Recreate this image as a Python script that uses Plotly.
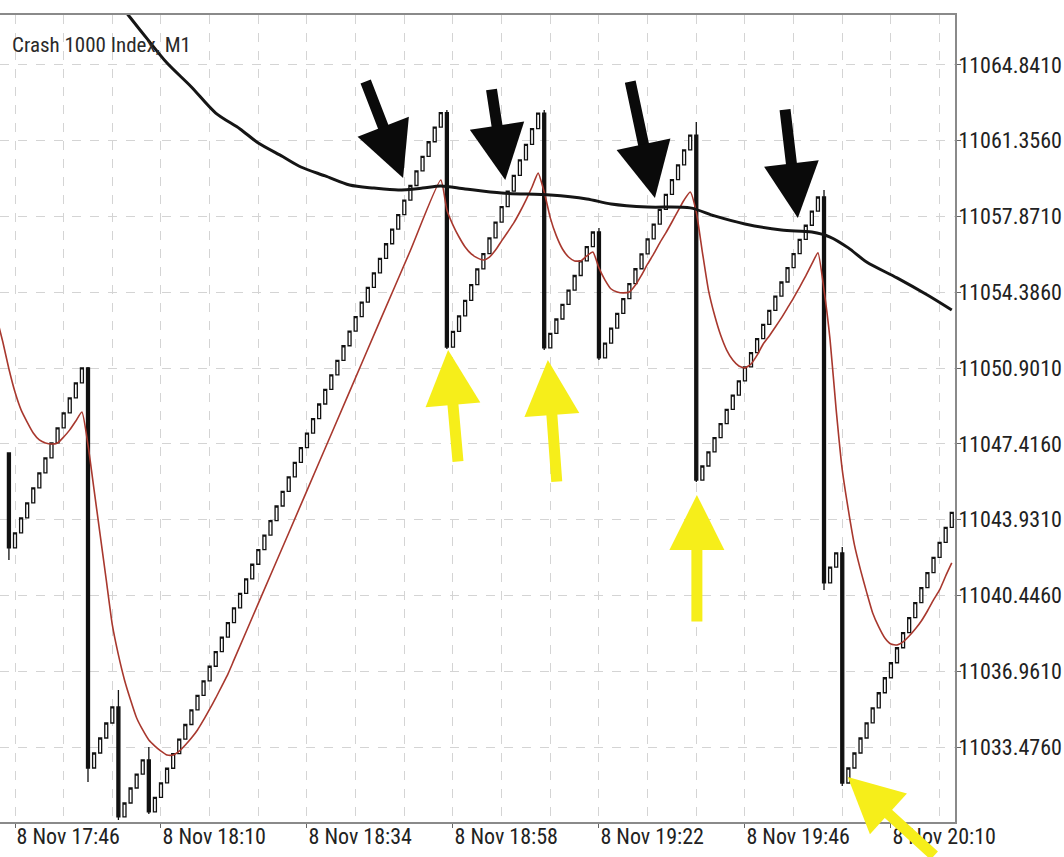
import pandas as pd
import plotly.graph_objects as go

# ---------------- data ----------------
first_bar = "2023-11-08 17:45"          # first visible M1 bar

opens = [
    11047.00,
    11042.63, 11043.32, 11044.01, 11044.70, 11045.39, 11046.08, 11046.77, 11047.46, 11048.15, 11048.84, 11049.53, 11050.22,
    11050.91,
    11032.51, 11033.20, 11033.89, 11034.58,
    11035.32,
    11030.26, 11030.90, 11031.59, 11032.23,
    11032.88,
    11030.49, 11031.16, 11031.83, 11032.50, 11033.17, 11033.84, 11034.51, 11035.18, 11035.85, 11036.52,
    11037.19, 11037.86, 11038.53, 11039.20, 11039.87, 11040.54, 11041.21, 11041.88, 11042.55, 11043.22,
    11043.89, 11044.56, 11045.23, 11045.90, 11046.57, 11047.24, 11047.91, 11048.58, 11049.25, 11049.92,
    11050.59, 11051.26, 11051.93, 11052.60, 11053.27, 11053.94, 11054.61, 11055.28, 11055.95, 11056.62,
    11057.29, 11057.96, 11058.63, 11059.30, 11059.97, 11060.64, 11061.31, 11061.98,
    11062.65,
    11051.87, 11052.59, 11053.30, 11054.02, 11054.74, 11055.46, 11056.17, 11056.89, 11057.61, 11058.33,
    11059.04, 11059.76, 11060.48, 11061.19, 11061.91,
    11062.63,
    11051.83, 11052.50, 11053.16, 11053.83, 11054.49, 11055.16, 11055.83, 11056.49,
    11057.16,
    11051.37, 11052.05, 11052.74, 11053.42, 11054.10, 11054.79, 11055.47, 11056.15, 11056.84, 11057.52,
    11058.20, 11058.89, 11059.57, 11060.25, 11060.94,
    11061.62,
    11045.75, 11046.40, 11047.05, 11047.70, 11048.35, 11049.00, 11049.66, 11050.31, 11050.96, 11051.61,
    11052.26, 11052.91, 11053.56, 11054.21, 11054.86, 11055.52, 11056.17, 11056.82, 11057.47, 11058.12,
    11058.77,
    11041.02, 11041.75,
    11042.40,
    11031.82, 11032.51, 11033.20, 11033.89, 11034.59, 11035.28, 11035.97, 11036.66, 11037.35, 11038.04,
    11038.74, 11039.43, 11040.12, 11040.81, 11041.50, 11042.20, 11042.89, 11043.58,
]

closes = [
    11042.63,
    11043.32, 11044.01, 11044.70, 11045.39, 11046.08, 11046.77, 11047.46, 11048.15, 11048.84, 11049.53, 11050.22, 11050.91,
    11032.51,
    11033.20, 11033.89, 11034.58, 11035.32,
    11030.26,
    11030.90, 11031.59, 11032.23, 11032.88,
    11030.49,
    11031.16, 11031.83, 11032.50, 11033.17, 11033.84, 11034.51, 11035.18, 11035.85, 11036.52, 11037.19,
    11037.86, 11038.53, 11039.20, 11039.87, 11040.54, 11041.21, 11041.88, 11042.55, 11043.22, 11043.89,
    11044.56, 11045.23, 11045.90, 11046.57, 11047.24, 11047.91, 11048.58, 11049.25, 11049.92, 11050.59,
    11051.26, 11051.93, 11052.60, 11053.27, 11053.94, 11054.61, 11055.28, 11055.95, 11056.62, 11057.29,
    11057.96, 11058.63, 11059.30, 11059.97, 11060.64, 11061.31, 11061.98, 11062.65,
    11051.87,
    11052.59, 11053.30, 11054.02, 11054.74, 11055.46, 11056.17, 11056.89, 11057.61, 11058.33, 11059.04,
    11059.76, 11060.48, 11061.19, 11061.91, 11062.63,
    11051.83,
    11052.50, 11053.16, 11053.83, 11054.49, 11055.16, 11055.83, 11056.49, 11057.16,
    11051.37,
    11052.05, 11052.74, 11053.42, 11054.10, 11054.79, 11055.47, 11056.15, 11056.84, 11057.52, 11058.20,
    11058.89, 11059.57, 11060.25, 11060.94, 11061.62,
    11045.75,
    11046.40, 11047.05, 11047.70, 11048.35, 11049.00, 11049.66, 11050.31, 11050.96, 11051.61, 11052.26,
    11052.91, 11053.56, 11054.21, 11054.86, 11055.52, 11056.17, 11056.82, 11057.47, 11058.12, 11058.77,
    11041.02,
    11041.75, 11042.40,
    11031.82,
    11032.51, 11033.20, 11033.89, 11034.59, 11035.28, 11035.97, 11036.66, 11037.35, 11038.04, 11038.74,
    11039.43, 11040.12, 11040.81, 11041.50, 11042.20, 11042.89, 11043.58, 11044.27,
]

# wicks of the crash (bearish) bars: bar index -> price
wick_high = {0: 11047.00, 13: 11050.95, 18: 11036.10, 23: 11033.48, 72: 11062.77,
             88: 11062.77, 97: 11057.35, 113: 11062.22, 134: 11059.09, 137: 11042.67}
wick_low = {0: 11042.08, 13: 11031.87, 18: 11030.12, 23: 11030.39, 72: 11051.78,
            88: 11051.73, 97: 11051.27, 113: 11045.66, 134: 11040.70, 137: 11031.68}

# fast moving average (red) : minutes after 17:46 -> price
fast_min = [-3, -2, -1, 0, 1, 2, 3, 4, 5, 6, 7, 8, 9, 10, 11, 12, 13, 14, 15, 16, 17, 18, 19, 20,
            21, 22, 23, 24, 25, 26, 27, 28, 29, 30, 31, 32, 33, 34, 35, 36, 40, 45, 50, 55, 60, 65, 70,
            71, 72, 73, 74, 75, 76, 77, 78, 79, 80, 81, 82, 83, 84, 85, 86, 87, 88, 89, 90, 91, 92, 93,
            94, 95, 96, 97, 98, 99, 100, 101, 102, 103, 104, 105, 106, 107, 108, 109, 110, 111, 112,
            113, 114, 115, 116, 117, 118, 119, 120, 121, 122, 123, 124, 125, 126, 127, 128, 129, 130,
            131, 132, 133, 134, 135, 136, 137, 138, 139, 140, 141, 142, 143, 144, 145, 146, 147, 148,
            149, 150, 151, 152, 153, 154]
fast_val = [11053.20, 11052.10, 11050.86, 11049.80, 11048.98, 11048.42, 11047.92, 11047.60, 11047.46,
            11047.41, 11047.46, 11047.73, 11048.06, 11048.47, 11048.88, 11047.37, 11045.30, 11043.23,
            11041.16, 11039.09, 11037.71, 11036.56, 11035.64, 11034.81, 11034.26, 11033.80, 11033.52,
            11033.29, 11033.11, 11033.11, 11033.29, 11033.57, 11033.89, 11034.26, 11034.72, 11035.22,
            11035.73, 11036.28, 11036.83, 11037.48, 11040.08, 11043.32, 11046.57, 11049.82, 11053.07,
            11056.31, 11059.55,
            11058.17, 11057.48, 11056.93, 11056.47, 11056.15, 11055.97, 11055.87, 11056.01, 11056.33,
            11056.75, 11057.16, 11057.58, 11058.08, 11058.63, 11059.23, 11059.87, 11059.00, 11057.81,
            11056.98, 11056.38, 11056.01, 11055.83, 11055.83, 11056.06, 11056.24, 11055.51, 11054.95,
            11054.54, 11054.40, 11054.36, 11054.40, 11054.72, 11055.18, 11055.69, 11056.15, 11056.66,
            11057.12, 11057.62, 11058.13, 11058.63, 11059.00, 11058.08,
            11056.24, 11054.49, 11053.34, 11052.42, 11051.73, 11051.27, 11051.00, 11050.91, 11051.09,
            11051.50, 11052.01, 11052.38, 11052.79, 11053.21, 11053.67, 11054.13, 11054.63, 11055.14,
            11055.69, 11056.20, 11054.49, 11052.19, 11048.98, 11046.22, 11044.38, 11042.77, 11041.62,
            11040.60, 11039.64, 11039.00, 11038.49, 11038.21, 11038.17, 11038.31, 11038.58, 11038.90,
            11039.27, 11039.73, 11040.24, 11040.70, 11041.34, 11041.94]

# slow moving average (thick black)
slow_min = [16, 19, 22, 25, 29, 33, 37, 40, 44, 47, 51, 55, 59, 63, 67, 70, 74, 80, 88, 94, 98,
            104, 111, 115, 120, 126, 131, 134, 137, 140, 145, 150, 154]
slow_val = [11068.06, 11067.00, 11065.95, 11064.93, 11063.83, 11062.63, 11061.90, 11061.25,
            11060.63, 11060.15, 11059.74, 11059.32, 11059.18, 11059.09, 11059.18, 11059.28,
            11059.14, 11058.95, 11058.86, 11058.68, 11058.45, 11058.31, 11058.27, 11057.90,
            11057.53, 11057.25, 11057.16, 11056.93, 11056.43, 11055.78, 11055.05, 11054.26,
            11053.57]

price_ticks = [11033.4760, 11036.9610, 11040.4460, 11043.9310, 11047.4160,
               11050.9010, 11054.3860, 11057.8710, 11061.3560, 11064.8410]

# hand-drawn arrows: head (minutes after 17:46, price), tail offset in px
black_arrow_min = [63.8, 80.6, 105.2, 128.7]
black_arrow_price = [11059.64, 11059.55, 11058.72, 11057.80]
black_arrow_dx = [-38, -14, -25, -13]
black_arrow_dy = [-98, -92, -118, -110]

yellow_arrow_min = [71.2, 87.6, 112.1, 136.9]
yellow_arrow_price = [11051.73, 11051.27, 11045.07, 11032.10]
yellow_arrow_dx = [10, 9, 0, 88]
yellow_arrow_dy = [113, 123, 128, 80]

title_text = "Crash 1000 Index, M1"

# ---------------- build ----------------
base = pd.Timestamp("2023-11-08 17:46")
times = pd.date_range(first_bar, periods=len(closes), freq="min")
highs = [wick_high.get(k, max(o, c)) for k, (o, c) in enumerate(zip(opens, closes))]
lows = [wick_low.get(k, min(o, c)) for k, (o, c) in enumerate(zip(opens, closes))]


def tm(m):
    return base + pd.to_timedelta(m, unit="min")


FONT = "Liberation Sans Narrow, Roboto Condensed, Arial Narrow, DejaVu Sans Condensed, sans-serif"

fig = go.Figure()
fig.add_trace(go.Candlestick(
    x=times, open=opens, high=highs, low=lows, close=closes,
    increasing=dict(line=dict(color="#111111", width=1.3), fillcolor="white"),
    decreasing=dict(line=dict(color="#111111", width=1.3), fillcolor="#111111"),
    whiskerwidth=0, hoverinfo="skip", showlegend=False,
))
fig.add_trace(go.Scatter(
    x=[tm(m) for m in fast_min], y=fast_val, mode="lines",
    line=dict(color="#a8382e", width=1.6, shape="spline", smoothing=0.5),
    hoverinfo="skip", showlegend=False,
))
fig.add_trace(go.Scatter(
    x=[tm(m) for m in slow_min], y=slow_val, mode="lines",
    line=dict(color="#151515", width=3, shape="spline", smoothing=0.8),
    hoverinfo="skip", showlegend=False,
))

annotations = [dict(
    text=title_text, xref="paper", yref="paper", x=0.01, y=0.963,
    xanchor="left", yanchor="middle", showarrow=False,
    font=dict(family=FONT, size=21, color="#2a2a2a"),
)]
for m, p, dx, dy in zip(black_arrow_min, black_arrow_price, black_arrow_dx, black_arrow_dy):
    annotations.append(dict(
        x=str(tm(m)), y=p, xref="x", yref="y", ax=dx, ay=dy, text="",
        showarrow=True, arrowhead=2, arrowsize=1.0, arrowwidth=11, arrowcolor="#0a0a0a",
    ))
for m, p, dx, dy in zip(yellow_arrow_min, yellow_arrow_price, yellow_arrow_dx, yellow_arrow_dy):
    annotations.append(dict(
        x=str(tm(m)), y=p, xref="x", yref="y", ax=dx, ay=dy, text="",
        showarrow=True, arrowhead=2, arrowsize=1.0, arrowwidth=11, arrowcolor="#f6ee1a",
    ))

fig.update_layout(
    width=1064, height=857,
    margin=dict(l=0, r=109, t=15, b=35),
    paper_bgcolor="white", plot_bgcolor="white",
    annotations=annotations,
    xaxis=dict(
        type="date",
        range=["2023-11-08 17:43:32", "2023-11-08 20:20:32"],
        rangeslider=dict(visible=False),
        tick0="2023-11-08 17:46", dtick=24 * 60 * 1000,
        tickformat="%-d %b %H:%M",
        ticklabelposition="outside right",
        ticklabelstandoff=-6,
        ticks="outside", ticklen=4, tickcolor="#666",
        tickfont=dict(family=FONT, size=22, color="#222"),
        showgrid=True, gridcolor="#d4d4d4", griddash="dash", gridwidth=1,
        minor=dict(dtick=8 * 60 * 1000, tick0="2023-11-08 17:46", showgrid=True,
                   gridcolor="#d4d4d4", griddash="dash", gridwidth=1),
        showline=True, linecolor="#8a8a8a", linewidth=2, mirror=True,
        zeroline=False, fixedrange=True,
    ),
    yaxis=dict(
        side="right",
        range=[11030.027, 11067.14],
        tickvals=price_ticks, tickformat=".4f",
        ticks="outside", ticklen=4, tickcolor="#666",
        ticklabelstandoff=-7,
        tickfont=dict(family=FONT, size=22, color="#222"),
        showgrid=True, gridcolor="#d4d4d4", griddash="dash", gridwidth=1,
        showline=True, linecolor="#8a8a8a", linewidth=2, mirror=False,
        zeroline=False, fixedrange=True,
    ),
)

fig.write_html("out.html", config={"displayModeBar": False},
               post_script="document.body.style.margin='0';document.body.style.padding='0';")
